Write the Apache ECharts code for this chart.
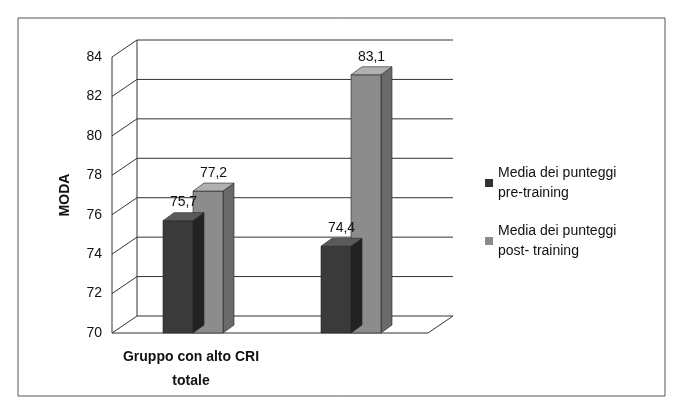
<!DOCTYPE html>
<html><head><meta charset="utf-8">
<script src="https://cdn.jsdelivr.net/npm/echarts@6/dist/echarts.min.js"></script>
<style>html,body{margin:0;padding:0;background:#fff}#c{width:682px;height:411px}</style>
</head><body><div id="c"></div>
<script>
var categories = ['Gruppo con alto CRI\ntotale', 'Gruppo con basso CRI\ntotale'];
var preValues = [75.7, 74.4];
var postValues = [77.2, 83.1];
var yTicks = [70, 72, 74, 76, 78, 80, 82, 84];
var seriesNames = ['Media dei punteggi\npre-training', 'Media dei punteggi\npost- training'];

var FONT = '"Liberation Sans Narrow","Liberation Sans",Arial,sans-serif';
var DX = 25, DY = -17, BW = 30, BDX = 11, BDY = -8;
var chart = echarts.init(document.getElementById('c'));

function barRender(offset, cols) {
  return function (params, api) {
    var idx = api.value(0), v = api.value(1);
    var top = api.coord([idx, v]), base = api.coord([idx, 70]);
    var x = top[0] + offset, y = top[1], b = base[1];
    return {
      type: 'group', children: [
        { type: 'polygon', shape: { points: [[x + BW, y], [x + BW + BDX, y + BDY], [x + BW + BDX, b + BDY], [x + BW, b]] }, style: { fill: cols[2], stroke: '#222', lineWidth: 0.6 } },
        { type: 'rect', shape: { x: x, y: y, width: BW, height: b - y }, style: { fill: cols[0], stroke: '#222', lineWidth: 0.6 } },
        { type: 'polygon', shape: { points: [[x, y], [x + BDX, y + BDY], [x + BW + BDX, y + BDY], [x + BW, y]] }, style: { fill: cols[1], stroke: '#222', lineWidth: 0.6 } },
        { type: 'text', style: { text: String(v).replace('.', ','), x: x + BW / 2 + BDX / 2, y: y + BDY - 3, align: 'center', verticalAlign: 'bottom', font: '14px ' + FONT, fill: '#111' } }
      ]
    };
  };
}

chart.setOption({
  animation: false,
  graphic: [{ type: 'rect', shape: { x: 18, y: 18, width: 647, height: 378 }, style: { fill: 'none', stroke: '#555', lineWidth: 1 } }],
  grid: { left: 112, right: 254, top: 57, bottom: 78 },
  legend: {
    orient: 'vertical', left: 480, top: 158, itemGap: 18, itemWidth: 8, itemHeight: 8,
    icon: 'rect', data: [{ name: seriesNames[0], itemStyle: { color: '#333' } }, { name: seriesNames[1], itemStyle: { color: '#8a8a8a' } }],
    textStyle: { fontFamily: FONT, fontSize: 14, color: '#111', lineHeight: 20 }
  },
  xAxis: {
    type: 'category', data: categories,
    axisLine: { show: false }, axisTick: { show: false },
    axisLabel: { fontFamily: FONT, fontSize: 14, fontWeight: 'bold', color: '#111', lineHeight: 24, margin: 12 }
  },
  yAxis: {
    type: 'value', min: 70, max: 84, interval: 2,
    name: 'MODA', nameLocation: 'middle', nameGap: 40, nameRotate: 90,
    nameTextStyle: { fontFamily: FONT, fontSize: 14, fontWeight: 'bold', color: '#111' },
    axisLine: { show: false }, axisTick: { show: false }, splitLine: { show: false },
    axisLabel: { fontFamily: FONT, fontSize: 14, color: '#111', margin: 10 }
  },
  series: [
    {
      type: 'custom', silent: true, z: 1, data: yTicks.map(function (t) { return [0, t]; }),
      renderItem: function (params, api) {
        var v = api.value(1), cs = params.coordSys, y = api.coord([0, v])[1];
        var x0 = cs.x, x1 = cs.x + cs.width;
        var ch = [];
        if (v === 70) {
          ch.push({ type: 'polygon', shape: { points: [[x0, y], [x0 + DX, y + DY], [x1 + DX, y + DY], [x1, y]] }, style: { fill: '#fff', stroke: '#333', lineWidth: 1 } });
          ch.push({ type: 'line', shape: { x1: x0 + DX, y1: y + DY, x2: x0 + DX, y2: cs.y + DY }, style: { stroke: '#333', lineWidth: 1 } });
          ch.push({ type: 'line', shape: { x1: x0, y1: y, x2: x0, y2: cs.y }, style: { stroke: '#333', lineWidth: 1 } });
        } else {
          ch.push({ type: 'polyline', shape: { points: [[x0, y], [x0 + DX, y + DY], [x1 + DX, y + DY]] }, style: { fill: 'none', stroke: '#333', lineWidth: 1 } });
        }
        return { type: 'group', children: ch };
      }
    },
    { name: seriesNames[0], type: 'custom', z: 3, itemStyle: { color: '#333' }, data: preValues.map(function (v, i) { return [i, v]; }), renderItem: barRender(-28, ['#3a3a3a', '#5a5a5a', '#222']) },
    { name: seriesNames[1], type: 'custom', z: 2, itemStyle: { color: '#8a8a8a' }, data: postValues.map(function (v, i) { return [i, v]; }), renderItem: barRender(2, ['#8c8c8c', '#b0b0b0', '#6a6a6a']) }
  ]
});
</script></body></html>
